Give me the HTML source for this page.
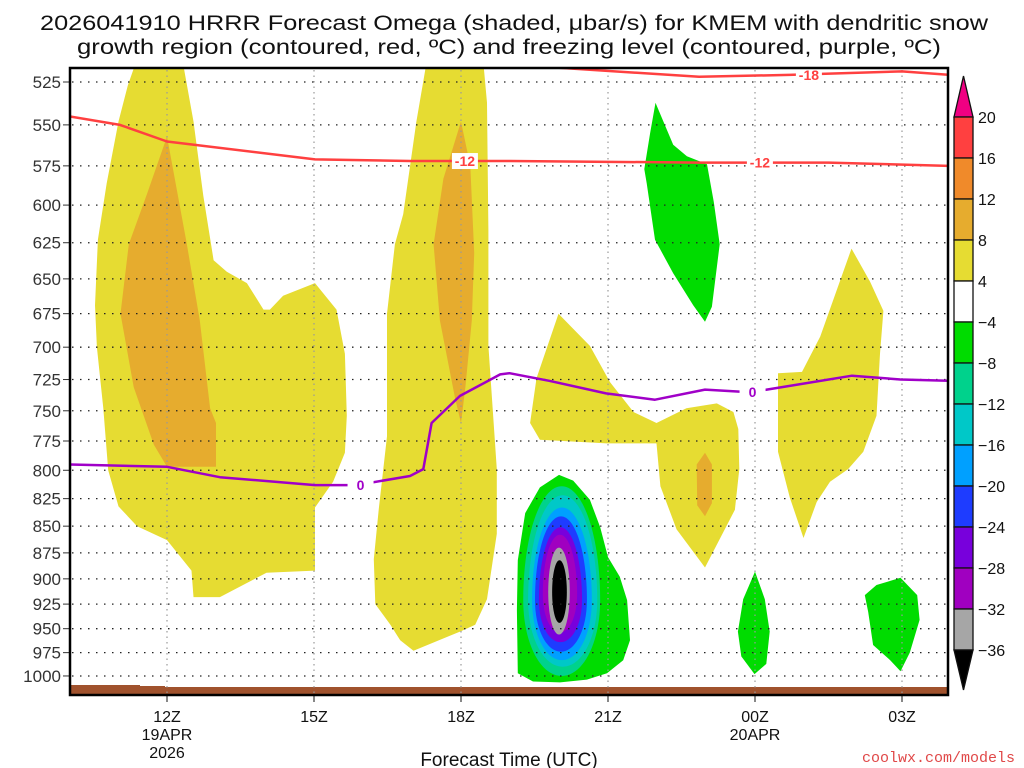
<!DOCTYPE html>
<html><head><meta charset="utf-8"><style>
html,body{margin:0;padding:0;background:#fff}
svg{display:block}
text{font-family:"Liberation Sans",sans-serif}
</style></head><body>
<svg id="chart" width="1024" height="768" viewBox="0 0 1024 768" xmlns="http://www.w3.org/2000/svg">
<defs><clipPath id="plotclip"><rect x="70" y="68" width="878" height="627"/></clipPath></defs>
<text x="40" y="30" font-size="21" fill="#111" textLength="948" lengthAdjust="spacingAndGlyphs">2026041910 HRRR Forecast Omega (shaded, μbar/s) for KMEM with dendritic snow</text>
<text x="77" y="54" font-size="21" fill="#111" textLength="864" lengthAdjust="spacingAndGlyphs">growth region (contoured, red, ºC) and freezing level (contoured, purple, ºC)</text>
<g id="shade" clip-path="url(#plotclip)"></g>
<g id="grid"></g>
<g id="lines" clip-path="url(#plotclip)"></g>
<g id="axes"></g>
<g id="cbar"></g>
<text x="509" y="766" font-size="19" text-anchor="middle" fill="#111">Forecast Time (UTC)</text>
<text x="1015" y="762" font-size="15" text-anchor="end" fill="#e04848" style="font-family:'Liberation Mono',monospace">coolwx.com/models</text>
</svg>
<script>
// hours relative to 19APR 12Z; pressures in hPa
const pressureTicks=[525,550,575,600,625,650,675,700,725,750,775,800,825,850,875,900,925,950,975,1000];
const timeTicks=[0,3,6,9,12,15];
const timeLabels=["12Z","15Z","18Z","21Z","00Z","03Z"];
const dateLabels={0:["19APR","2026"],12:["20APR"]};
const cbarLevels=[20,16,12,8,4,-4,-8,-12,-16,-20,-24,-28,-32,-36];
const cbarColors=["#ff4040","#f08a2a","#e6ac2e","#e6dc32","#ffffff","#00dc00","#00d28c","#00c8c8","#00a0ff","#1e3cff","#7800dc","#a000c0","#a6a6a6"];
const yellowAreas=[
 [[-0.65,515],[0.33,515],[0.54,548],[0.74,594],[0.95,637],[1.22,645],[1.63,653],[1.97,672],[2.10,672],[2.37,662],[3.02,653],[3.46,672],[3.63,705],[3.67,754],[3.63,785],[3.39,810],[3.02,833],[3.02,892],[2.03,894],[1.08,918],[0.54,918],[0.50,892],[0.0,863],[-0.61,850],[-0.99,832],[-1.20,800],[-1.30,748],[-1.43,700],[-1.47,669],[-1.41,623],[-1.23,586],[-0.99,548],[-0.80,527]],
 [[5.29,515],[6.46,515],[6.53,537],[6.56,617],[6.56,699],[6.73,799],[6.73,857],[6.53,920],[6.29,946],[5.98,953],[5.03,973],[4.76,962],[4.56,946],[4.25,925],[4.22,881],[4.32,835],[4.49,771],[4.49,675],[4.65,626],[4.82,606],[5.09,548]],
 [[7.99,675],[8.63,699],[9.04,727],[9.52,751],[9.99,760],[9.99,777],[8.97,777],[7.61,774],[7.41,760],[7.54,724]],
 [[9.99,760],[10.6,748],[11.22,744],[11.56,751],[11.66,765],[11.68,799],[11.59,835],[10.98,889],[10.40,853],[10.07,814],[9.99,777]],
 [[13.97,629],[14.35,652],[14.62,673],[14.55,705],[14.48,754],[14.21,784],[13.90,799],[13.53,810],[13.26,828],[12.99,861],[12.71,824],[12.47,784],[12.47,720],[12.96,719],[13.33,692]]
];
const orangeAreas=[
 [[0,557],[0.40,625],[0.67,680],[0.88,748],[1.0,760],[1.0,797],[0,797],[-0.27,778],[-0.68,731],[-0.95,675],[-0.78,626],[-0.41,593]],
 [[6.0,548],[6.19,575],[6.27,632],[6.22,680],[6.09,731],[6.0,760],[5.88,740],[5.57,680],[5.44,626],[5.64,583]],
 [[10.98,785],[11.12,795],[11.12,829],[10.98,841],[10.82,831],[10.81,795]]
];
const greenAreas=[
 [[9.97,537],[10.33,562],[10.61,569],[11.02,574],[11.16,598],[11.28,626],[11.12,670],[10.98,681],[10.74,669],[10.33,646],[9.96,623],[9.79,586],[9.74,577],[9.86,555]],
 [[12.0,893],[12.2,920],[12.3,953],[12.23,987],[11.99,998],[11.72,979],[11.65,953],[11.76,920]],
 [[14.97,899],[15.31,916],[15.36,941],[15.16,975],[14.97,995],[14.76,983],[14.41,967],[14.31,933],[14.24,916],[14.48,906]],
 [[8.0,804],[8.29,809],[8.63,826],[8.84,851],[9.0,879],[9.24,898],[9.39,921],[9.45,962],[9.31,983],[8.98,997],[8.57,1004],[8.02,1007],[7.47,1006],[7.16,997],[7.14,931],[7.16,882],[7.31,838],[7.61,815]]
];
// core rings: [colorIndex, hLeft, hRight, pTop, pMid, pBottom]
const coreRings=[[6,7.27,8.84,814,921,1000],[7,7.37,8.78,822,921,990],[8,7.45,8.67,833,921,983],[9,7.51,8.57,841,921,974],[10,7.59,8.47,851,921,964],[11,7.67,8.37,858,915,954],[12,7.78,8.22,870,913,956],[13,7.86,8.16,882,913,944]];
const freezingLine=[[-1.98,795],[0,797],[1.08,806],[3.02,813],[3.87,813],[4.96,805],[5.23,799],[5.40,760],[5.98,738],[6.8,721],[6.99,720],[7.8,726],[8.96,736],[9.96,741],[10.98,733],[11.9,735],[12.24,733],[13.98,722],[14.97,725],[15.98,726]];
const dgzLine12=[[-1.98,545],[-0.96,550],[0,560],[3.02,571],[4.96,572],[7.0,572],[10.86,573],[13.5,573],[15.98,575]];
const dgzLine18=[[8.0,517],[10.86,522],[12.7,521],[15.0,519],[15.98,521]];
const lineLabels=[["-12",6.08,572,"#ff4040"],["-12",12.1,573,"#ff4040"],["-18",13.1,521,"#ff4040"],["0",3.95,813,"#a000c8"],["0",11.95,735,"#a000c8"]];

const NS="http://www.w3.org/2000/svg";
function xS(h){return 167+49*h;}
function yS(p){return 82+921.8*Math.log(p/525);}
function mk(tag,attrs,parent){const e=document.createElementNS(NS,tag);for(const k in attrs)e.setAttribute(k,attrs[k]);parent.appendChild(e);return e;}
function pts(a){return a.map(d=>xS(d[0]).toFixed(1)+","+yS(d[1]).toFixed(1)).join(" ");}
const shade=document.getElementById('shade'),grid=document.getElementById('grid'),lines=document.getElementById('lines'),axes=document.getElementById('axes'),cbar=document.getElementById('cbar');
const fillColors=cbarColors.concat(["#000000"]);
yellowAreas.forEach(a=>{const e=mk('polygon',{points:pts(a),fill:fillColors[3]},shade);

});
orangeAreas.forEach(a=>{const e=mk('polygon',{points:pts(a),fill:fillColors[2]},shade);

});
greenAreas.forEach(a=>{const e=mk('polygon',{points:pts(a),fill:fillColors[5]},shade);

});
coreRings.forEach(r=>{
 const hc=(r[1]+r[2])/2,xl=xS(r[1]),xr=xS(r[2]),xc=xS(hc),yt=yS(r[3]),ym=yS(r[4]),yb=yS(r[5]);
 const k=0.56,rw=(xr-xl)/2;
 const d=`M${xc},${yt} C${xc+rw*k},${yt} ${xr},${ym-(ym-yt)*k} ${xr},${ym} C${xr},${ym+(yb-ym)*k} ${xc+rw*k},${yb} ${xc},${yb} C${xc-rw*k},${yb} ${xl},${ym+(yb-ym)*k} ${xl},${ym} C${xl},${ym-(ym-yt)*k} ${xc-rw*k},${yt} ${xc},${yt}Z`;
 const e=mk('path',{d:d,fill:fillColors[r[0]]},shade);
 
 });
// ground
const g1=mk('path',{d:"M70,685 L140,685 L140,686 L165,686 L165,687 L948,687 L948,695 L70,695Z",fill:"#a0522d"},shade);


// grid
pressureTicks.forEach(p=>{const y=yS(p);
 const l=mk('line',{x1:72,x2:946,y1:y,y2:y,stroke:"#222","stroke-width":1.3,"stroke-dasharray":"1.5 6.5"},grid);
 
 
 const t=mk('line',{x1:63,x2:70,y1:y,y2:y,stroke:"#333","stroke-width":1},axes);
 
 
 const tx=mk('text',{x:61,y:y+6,"font-size":17,"text-anchor":"end",fill:"#333"},axes);tx.textContent=p;
 
 });
timeTicks.forEach((h,i)=>{const x=xS(h);
 const l=mk('line',{x1:x,x2:x,y1:70,y2:693,stroke:"#999","stroke-width":1.2,"stroke-dasharray":"1.5 4"},grid);
 
 
 const t=mk('line',{x1:x,x2:x,y1:695,y2:702,stroke:"#111","stroke-width":1},axes);
 
 
 const tx=mk('text',{x:x,y:722,"font-size":16,"text-anchor":"middle",fill:"#111"},axes);tx.textContent=timeLabels[i];
 
 
 (dateLabels[h]||[]).forEach((s,j)=>{const d=mk('text',{x:x,y:740+j*18,"font-size":16,"text-anchor":"middle",fill:"#111"},axes);d.textContent=s;
  
  });});
// lines
function poly(a,col,name){const e=mk('polyline',{points:pts(a),fill:"none",stroke:col,"stroke-width":2.5,"stroke-linejoin":"round"},lines);
 
 }
poly(dgzLine12,"#ff4040","dgz-minus12-contour");
poly(dgzLine18,"#ff4040","dgz-minus18-contour");
poly(freezingLine,"#a000c8","freezing-level-contour");
lineLabels.forEach(l=>{const x=xS(l[1]),y=yS(l[2]);
 const r=mk('rect',{x:x-13,y:y-8,width:26,height:16,fill:"#fff"},lines);
 
 
 const t=mk('text',{x:x,y:y+5,"font-size":14,"font-weight":"bold","text-anchor":"middle",fill:l[3]},lines);t.textContent=l[0];
 
 });
// frame
const fr=mk('rect',{x:70,y:68,width:878,height:627,fill:"none",stroke:"#000","stroke-width":2.5},axes);


// colorbar
const cx0=954,cw=19,ct=117,step=(650-117)/(cbarLevels.length-1);
const tri=mk('polygon',{points:`${cx0},${ct} ${cx0+cw/2},76 ${cx0+cw},${ct}`,fill:"#f00082",stroke:"#111","stroke-width":1.3},cbar);


cbarColors.forEach((c,i)=>{const r=mk('rect',{x:cx0,y:ct+i*step,width:cw,height:step,fill:c,stroke:"#111","stroke-width":1.3},cbar);
 
 });
const tri2=mk('polygon',{points:`${cx0},650 ${cx0+cw/2},690 ${cx0+cw},650`,fill:"#000",stroke:"#111","stroke-width":1.3},cbar);


cbarLevels.forEach((v,i)=>{const t=mk('text',{x:978,y:ct+i*step+6,"font-size":16,fill:"#111"},cbar);t.textContent=v<0?"\u2212"+(-v):String(v);
 
 });
</script>
</body></html>
